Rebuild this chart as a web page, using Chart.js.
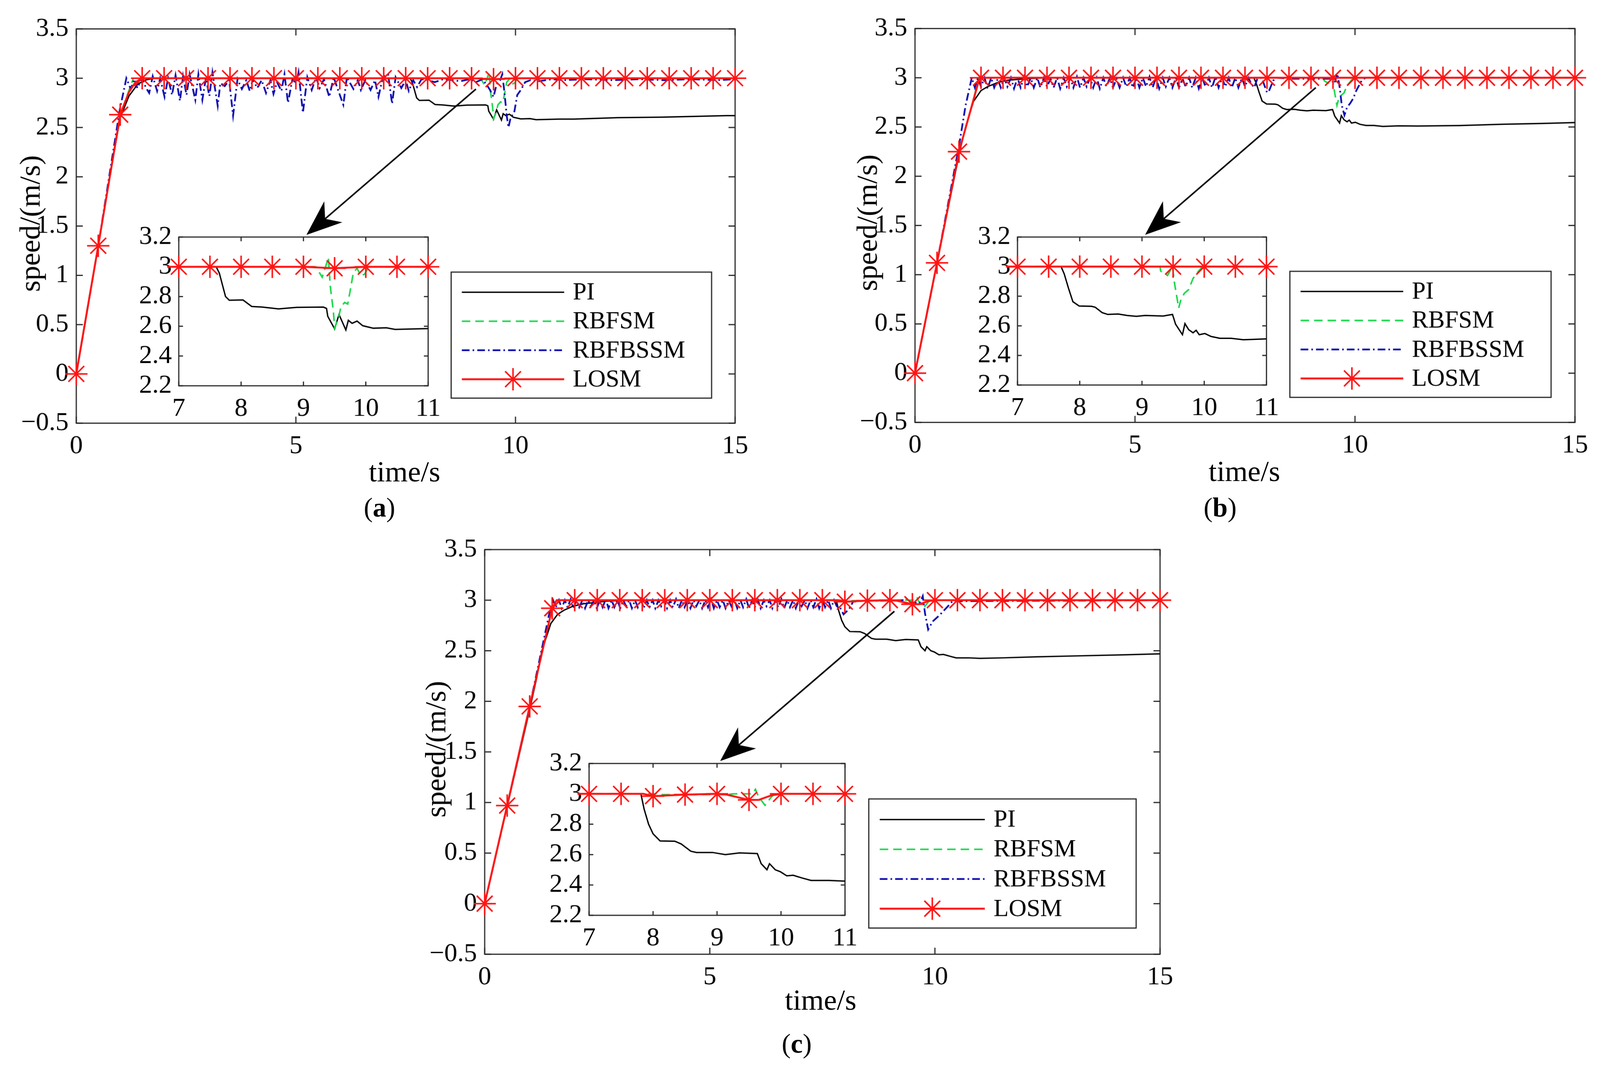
<!DOCTYPE html>
<html>
<head>
<meta charset="utf-8">
<title>speed response</title>
<script src="https://cdn.jsdelivr.net/npm/chart.js@4.4.1/dist/chart.umd.min.js"></script>
<style>
  html, body { margin: 0; padding: 0; background: #fff; overflow: hidden; }
  body { font-family: 'Liberation Serif', 'Times New Roman', serif; }
  #page { position: absolute; left: 0; top: 0; width: 4153px; height: 2792px; background: #fff; transform-origin: 0 0; }
  canvas { position: absolute; }
  .txt { position: absolute; color: #000; white-space: nowrap; line-height: 1; transform: translate(-50%, -50%); }
  .rot { transform: translate(-50%, -50%) rotate(-90deg); }
</style>
</head>
<body>
<div id="page"></div>
<script>
// ---- data: [time s, speed m/s] ----
const piA = [[0,0],[0.25,0.66],[0.5,1.3],[0.75,1.97],[1.0,2.6],[1.2,2.82],[1.4,2.94],[1.6,2.985],[1.8,3.0],[7.6,3.0],[7.65,2.958],[7.75,2.8],[7.81,2.775],[8.03,2.777],[8.17,2.733],[8.34,2.729],[8.6,2.717],[8.89,2.727],[9.32,2.729],[9.37,2.72],[9.39,2.667],[9.5,2.583],[9.57,2.679],[9.68,2.575],[9.72,2.64],[9.78,2.62],[9.86,2.635],[9.95,2.604],[10.12,2.587],[10.33,2.59],[10.47,2.579],[11.0,2.585],[11.33,2.585],[12.33,2.6],[13.32,2.605],[14.81,2.62],[15,2.62]];
const rbfsmA = [[0,0],[0.5,1.3],[1.0,2.63],[1.3,3.0],[9.2,3.0],[9.3,2.93],[9.4,3.06],[9.43,2.87],[9.48,2.7],[9.5,2.59],[9.56,2.65],[9.6,2.73],[9.66,2.76],[9.71,2.75],[9.75,2.84],[9.8,2.96],[9.86,2.99],[9.92,2.94],[9.98,2.95],[10.05,3.0],[15,3.0]];
const rbfbssmA = [[0,0],[0.5,1.3],[0.99,2.68],[1.14,3.0],[1.24,2.89],[1.32,2.99],[1.39,2.9],[1.49,3.0],[1.59,2.9],[1.66,2.85],
  [1.74,3.02],[1.84,2.87],[1.91,3.0],[2.01,2.81],[2.09,3.0],[2.18,2.83],[2.26,3.03],[2.36,2.77],[2.43,3.02],[2.51,2.83],
  [2.58,3.04],[2.71,2.78],[2.78,3.04],[2.87,2.78],[2.95,3.0],[3.03,2.82],[3.1,3.06],[3.22,2.72],[3.28,2.95],[3.38,2.92],
  [3.48,2.98],[3.57,2.62],[3.67,2.99],[3.77,2.89],[3.87,2.98],[3.95,2.87],[4.02,2.99],[4.12,2.9],[4.22,2.98],[4.32,2.85],
  [4.42,2.98],[4.49,2.84],[4.57,2.96],[4.67,2.87],[4.74,3.04],[4.82,2.75],[4.92,2.99],[5.01,2.95],[5.06,3.06],[5.16,2.65],
  [5.26,3.01],[5.36,2.88],[5.46,3.01],[5.54,2.9],[5.64,2.99],[5.76,2.81],[5.86,3.01],[5.96,2.88],[6.08,2.73],[6.16,3.01],
  [6.31,2.89],[6.41,2.98],[6.48,2.88],[6.58,2.98],[6.7,2.88],[6.8,2.98],[6.88,2.81],[6.98,3.01],[7.1,3.04],[7.19,2.74],
  [7.27,3.01],[7.4,2.9],[7.5,2.98],[7.57,2.87],[7.67,2.98],[7.76,2.91],[7.86,2.99],[8.01,2.98],[8.16,2.96],[8.36,2.99],
  [8.55,2.98],[8.75,2.97],[8.95,2.99],[9.1,2.96],[9.25,2.99],[9.35,2.93],[9.42,2.88],[9.5,2.81],[9.57,2.94],[9.65,2.98],
  [9.7,3.04],[9.75,2.85],[9.8,2.62],[9.84,2.5],[9.89,2.6],[9.97,2.65],[10.04,2.83],[10.12,2.88],[10.22,2.96],[10.34,2.98],
  [10.54,2.97],[10.84,2.99],[11.09,2.98],[11.6,2.99],[12.2,2.98],[12.8,2.99],[13.4,2.98],[14.0,2.99],[14.6,2.98],[15,2.99]];
const losmA = [[0,0],[0.5,1.3],[1.0,2.63],[1.2,2.86],[1.35,2.96],[1.5,3.0],[2,3],[2.5,3],[3,3],[3.5,3],[4,3],[4.5,3],[5,3],[5.5,3],[6,3],[6.5,3],[7,3],[7.5,3],[8,3],[8.5,3],[9,3],[9.5,2.99],[10,3],[10.5,3],[11,3],[11.5,3],[12,3],[12.5,3],[13,3],[13.5,3],[14,3],[14.5,3],[15,3]];

const piB = [[0,0],[0.5,1.12],[1.0,2.22],[1.15,2.5],[1.33,2.76],[1.5,2.87],[1.65,2.91],[1.9,2.955],[2.1,2.975],[2.5,2.99],[3.0,3.0],[7.7,3.0],[7.75,2.952],[7.82,2.853],[7.89,2.763],[7.99,2.734],[8.19,2.732],[8.25,2.725],[8.36,2.689],[8.45,2.677],[8.62,2.68],[8.76,2.67],[8.91,2.664],[9.05,2.67],[9.34,2.666],[9.49,2.677],[9.54,2.611],[9.65,2.54],[9.69,2.615],[9.75,2.574],[9.82,2.553],[9.87,2.57],[9.92,2.54],[10.01,2.548],[10.11,2.528],[10.25,2.516],[10.43,2.516],[10.63,2.506],[11.0,2.512],[11.43,2.51],[12.37,2.515],[13.32,2.527],[14.27,2.536],[15,2.545]];
const rbfsmB = [[0,0],[0.5,1.12],[1.0,2.25],[1.3,2.73],[1.45,3.0],[9.29,3.0],[9.3,2.97],[9.41,2.94],[9.49,3.0],[9.52,2.895],[9.59,2.72],[9.62,2.77],[9.68,2.82],[9.75,2.845],[9.82,2.92],[9.91,2.97],[9.97,3.0],[15,3.0]];
const rbfbssmB = [[0,0],[0.5,1.12],[1.0,2.31],[1.15,2.72],[1.29,3.0],
  [1.36,2.9],[1.43,3.0],[1.5,2.91],[1.58,3.0],[1.65,2.89],[1.73,3.0],[1.8,2.9],[1.88,2.99],[1.95,2.9],[2.03,3.0],
  [2.1,2.91],[2.18,3.0],[2.25,2.89],[2.33,3.0],[2.4,2.9],[2.48,3.01],[2.55,2.91],[2.63,3.0],[2.7,2.9],[2.78,3.0],
  [2.85,2.9],[2.93,3.0],[3.0,2.91],[3.08,2.99],[3.15,2.9],[3.23,3.0],[3.3,2.89],[3.38,3.0],[3.45,2.91],[3.53,3.0],
  [3.6,2.9],[3.68,3.01],[3.75,2.9],[3.83,3.0],[3.9,2.91],[3.98,3.0],[4.05,2.9],[4.13,3.0],[4.2,2.89],[4.28,3.0],
  [4.35,2.91],[4.43,3.0],[4.5,2.9],[4.58,2.99],[4.65,2.9],[4.73,3.0],[4.8,2.91],[4.88,3.0],[4.95,2.9],[5.03,3.0],
  [5.1,2.9],[5.18,3.0],[5.25,2.91],[5.33,3.01],[5.4,2.9],[5.48,3.0],[5.55,2.89],[5.63,3.0],[5.7,2.91],[5.78,3.0],
  [5.85,2.9],[5.93,3.0],[6.0,2.9],[6.08,2.99],[6.15,2.91],[6.23,3.0],[6.3,2.9],[6.38,3.0],[6.45,2.89],[6.53,3.0],
  [6.6,2.91],[6.68,3.0],[6.75,2.9],[6.83,3.01],[6.9,2.9],[6.98,3.0],[7.05,2.91],[7.13,3.0],[7.2,2.9],[7.28,3.0],
  [7.35,2.9],[7.43,3.0],[7.5,2.91],[7.58,3.0],[7.64,2.94],[7.71,2.9],[7.78,2.99],[7.88,3.0],[8.0,2.85],[8.04,2.86],
  [8.14,2.97],[8.21,3.0],[8.59,2.99],[9.06,2.99],[9.44,2.99],[9.53,2.94],[9.6,3.04],[9.65,2.91],[9.7,2.72],[9.76,2.62],
  [9.82,2.7],[9.89,2.74],[9.96,2.79],[10.03,2.87],[10.15,2.97],[10.24,3.0],[15,3.0]];
const losmB = [[0,0],[0.5,1.12],[1.0,2.25],[1.3,2.73],[1.45,2.97],[1.5,3.0],[2,3],[2.5,3],[3,3],[3.5,3],[4,3],[4.5,3],[5,3],[5.5,3],[6,3],[6.5,3],[7,3],[7.5,3],[8,3],[8.5,3],[9,3],[9.5,3],[10,3],[10.5,3],[11,3],[11.5,3],[12,3],[12.5,3],[13,3],[13.5,3],[14,3],[14.5,3],[15,3]];

const piC = [[0,0],[0.5,0.96],[1.0,1.92],[1.15,2.22],[1.27,2.5],[1.47,2.77],[1.62,2.86],[1.76,2.9],[1.96,2.94],[2.2,2.965],[2.7,2.99],[3.2,3.0],[7.81,3.0],[7.86,2.9],[7.93,2.8],[8.0,2.737],[8.11,2.69],[8.34,2.688],[8.44,2.67],[8.59,2.622],[8.68,2.614],[8.93,2.614],[9.13,2.6],[9.35,2.611],[9.63,2.607],[9.69,2.54],[9.78,2.5],[9.82,2.54],[9.91,2.5],[9.99,2.487],[10.09,2.46],[10.19,2.464],[10.33,2.446],[10.47,2.43],[10.75,2.43],[11.0,2.425],[11.52,2.43],[12.25,2.44],[13.23,2.45],[14.21,2.46],[15,2.47]];
const rbfsmC = [[0,0],[0.5,0.97],[1.0,1.95],[1.5,2.92],[1.6,3.0],[8.05,3.0],[8.1,2.995],[9.15,2.995],[9.25,3.0],[9.55,3.0],[9.6,3.03],[9.65,2.98],[9.75,2.925],[9.85,2.98],[9.9,3.0],[15,3.0]];
const rbfbssmC = [[0,0],[0.5,0.97],[1.0,1.95],[1.45,2.9],[1.52,3.0],
  [1.58,2.93],[1.65,3.0],[1.71,2.92],[1.78,3.0],[1.84,2.93],[1.91,3.01],[1.97,2.92],[2.04,3.0],[2.1,2.93],[2.17,3.0],
  [2.23,2.92],[2.3,3.0],[2.36,2.94],[2.43,3.0],[2.49,2.92],[2.56,3.0],[2.62,2.93],[2.69,3.01],[2.75,2.92],[2.82,3.0],
  [2.88,2.93],[2.95,3.0],[3.01,2.92],[3.08,3.0],[3.14,2.94],[3.21,3.0],[3.27,2.92],[3.34,3.0],[3.4,2.93],[3.47,3.01],
  [3.53,2.92],[3.6,3.0],[3.66,2.93],[3.73,3.0],[3.79,2.92],[3.86,3.0],[3.92,2.94],[3.99,3.0],[4.05,2.92],[4.12,3.0],
  [4.18,2.93],[4.25,3.01],[4.31,2.92],[4.38,3.0],[4.44,2.93],[4.51,3.0],[4.57,2.92],[4.64,3.0],[4.7,2.94],[4.77,3.0],
  [4.83,2.92],[4.9,3.0],[4.96,2.93],[5.03,3.01],[5.09,2.92],[5.16,3.0],[5.22,2.93],[5.29,3.0],[5.35,2.92],[5.42,3.0],
  [5.48,2.94],[5.55,3.0],[5.61,2.92],[5.68,3.0],[5.74,2.93],[5.81,3.01],[5.87,2.92],[5.94,3.0],[6.0,2.93],[6.07,3.0],
  [6.13,2.92],[6.2,3.0],[6.26,2.94],[6.33,3.0],[6.39,2.92],[6.46,3.0],[6.52,2.93],[6.59,3.01],[6.65,2.92],[6.72,3.0],
  [6.78,2.93],[6.85,3.0],[6.91,2.92],[6.98,3.0],[7.04,2.94],[7.11,3.0],[7.17,2.92],[7.24,3.0],[7.3,2.93],[7.37,3.01],
  [7.43,2.92],[7.5,3.0],[7.56,2.93],[7.63,3.0],[7.69,2.92],[7.76,3.0],[7.82,2.94],[7.89,2.93],[7.97,2.86],[8.09,2.91],
  [8.19,2.99],[9.31,3.0],[9.36,3.02],[9.46,2.98],[9.66,2.97],[9.73,3.04],[9.78,2.87],[9.85,2.71],[9.95,2.79],[10.1,2.85],
  [10.29,2.94],[10.39,2.99],[15,3.0]];
const losmC = [[0,0],[0.5,0.97],[1.0,1.95],[1.5,2.92],[1.6,3.0],[2,3],[2.5,3],[3,3],[3.5,3],[4,3],[4.5,3],[5,3],[5.5,3],[6,3],[6.5,3],[7,3],[7.5,3],[7.85,3.0],[8,2.985],[8.5,2.995],[9,3],[9.15,2.995],[9.5,2.96],[9.65,2.96],[9.85,2.99],[10,3],[10.5,3],[11,3],[11.5,3],[12,3],[12.5,3],[13,3],[13.5,3],[14,3],[14.5,3],[15,3]];

const seriesNames = ['PI', 'RBFSM', 'RBFBSSM', 'LOSM'];
const mainXRange = [0, 15], mainXStep = 5;
const mainYRange = [-0.5, 3.5], mainYStep = 0.5;
const insetXRange = [7, 11], insetXStep = 1;
const insetYRange = [2.2, 3.2], insetYStep = 0.2;

// ---- styles and layout ----
const PAGE_W = 4153, PAGE_H = 2792;
const FONT = "'Liberation Serif', 'Times New Roman', serif";
const AXIS = '#262626';
const TICK_PX = 68;
const looks = [
  { color: '#000000', width: 3.5, dash: [],            order: 4 },
  { color: '#18d84a', width: 4,   dash: [22, 13],      order: 3 },
  { color: '#0b0bb0', width: 4.5, dash: [20, 8, 4, 8], order: 2 },
  { color: '#ff1414', width: 5,   dash: [],            order: 1 }
];
const STAR_R = 29;

Chart.defaults.font.family = FONT;
Chart.defaults.color = '#000';

const page = document.getElementById('page');
// keep the whole 4153x2792 sheet inside the viewport
const fit = Math.min(window.innerWidth / PAGE_W, window.innerHeight / PAGE_H);
if (fit > 0 && fit < 0.999) page.style.transform = 'scale(' + fit + ')';

const panels = [
  { tag: 'a', sets: [piA, rbfsmA, rbfbssmA, losmA],
    plot: [198, 61, 1913, 1098], inset: [464, 603, 1130, 1001], legend: [1171, 706, 1847, 1033],
    arrow: [[9.1, 2.89], [5.24, 1.41]], xTitle: [1050, 1223], yTitle: [77, 580], label: [985, 1317] },
  { tag: 'b', sets: [piB, rbfsmB, rbfbssmB, losmB],
    plot: [2375, 60, 4093, 1096], inset: [2641, 603, 3306, 999], legend: [3348, 704, 4026, 1031],
    arrow: [[9.11, 2.9], [5.23, 1.405]], xTitle: [3230, 1222], yTitle: [2250, 578], label: [3167, 1317] },
  { tag: 'c', sets: [piC, rbfsmC, rbfbssmC, losmC],
    plot: [1258, 1412, 3016, 2476], inset: [1529, 1969, 2212, 2375], legend: [2255, 2073, 2949, 2408],
    arrow: [[9.1, 2.89], [5.23, 1.41]], xTitle: [2130, 2594], yTitle: [1130, 1944], label: [2068, 2708] }
];

function fmt(v) {
  const r = Math.round(v * 10) / 10;
  return (r < 0 ? '\u2212' : '') + Math.abs(r);
}

function isMark(x) {
  return Math.abs(x * 2 - Math.round(x * 2)) < 1e-6;
}

function drawStar(ctx, x, y, r) {
  ctx.beginPath();
  for (let k = 0; k < 4; k++) {
    const a = k * Math.PI / 4;
    ctx.moveTo(x - Math.cos(a) * r, y - Math.sin(a) * r);
    ctx.lineTo(x + Math.cos(a) * r, y + Math.sin(a) * r);
  }
  ctx.stroke();
}

function buildSets(sets, inset) {
  const out = [];
  sets.forEach((pts, i) => {
    if (inset && i === 2) return; // the zoom panels only carry PI, RBFSM and LOSM
    const lk = looks[i];
    const ds = {
      label: seriesNames[i],
      data: pts.map(p => ({ x: p[0], y: p[1] })),
      borderColor: lk.color,
      backgroundColor: lk.color,
      borderWidth: lk.width,
      borderDash: lk.dash,
      tension: 0,
      fill: false,
      order: lk.order,
      pointRadius: 0,
      pointHoverRadius: 0
    };
    if (i === 3) {
      ds.pointStyle = 'star';
      ds.pointRadius = ctx => (ctx.raw && isMark(ctx.raw.x)) ? STAR_R : 0;
      ds.pointBorderWidth = 4;
      ds.pointBorderColor = lk.color;
      ds.pointBackgroundColor = lk.color;
      ds.clip = inset ? { left: 30, right: 30, top: 12, bottom: 12 } : false;
    } else if (inset) {
      ds.clip = 0;
    }
    out.push(ds);
  });
  return out;
}

function framePlugin(tickLen, whiteFill) {
  return {
    id: 'frame',
    beforeDraw(chart) {
      if (!whiteFill) return;
      const a = chart.chartArea, ctx = chart.ctx;
      ctx.save();
      ctx.fillStyle = '#fff';
      ctx.fillRect(a.left, a.top, a.right - a.left, a.bottom - a.top);
      ctx.restore();
    },
    beforeDatasetsDraw(chart) {
      const a = chart.chartArea, ctx = chart.ctx;
      const xs = chart.scales.x, ys = chart.scales.y;
      ctx.save();
      ctx.strokeStyle = AXIS;
      ctx.lineWidth = 3;
      ctx.setLineDash([]);
      ctx.strokeRect(a.left, a.top, a.right - a.left, a.bottom - a.top);
      ctx.beginPath();
      xs.ticks.forEach(t => {
        const px = xs.getPixelForValue(t.value);
        ctx.moveTo(px, a.bottom); ctx.lineTo(px, a.bottom - tickLen);
        ctx.moveTo(px, a.top); ctx.lineTo(px, a.top + tickLen);
      });
      ys.ticks.forEach(t => {
        const py = ys.getPixelForValue(t.value);
        ctx.moveTo(a.left, py); ctx.lineTo(a.left + tickLen, py);
        ctx.moveTo(a.right, py); ctx.lineTo(a.right - tickLen, py);
      });
      ctx.stroke();
      ctx.restore();
    }
  };
}

function legendPlugin(box, offX, offY) {
  return {
    id: 'boxLegend',
    afterDatasetsDraw(chart) {
      const ctx = chart.ctx;
      const l = box[0] - offX, t = box[1] - offY, r = box[2] - offX, b = box[3] - offY;
      const w = r - l, h = b - t;
      const rows = [0.16, 0.39, 0.62, 0.85];
      ctx.save();
      ctx.fillStyle = '#fff';
      ctx.fillRect(l, t, w, h);
      ctx.strokeStyle = AXIS;
      ctx.lineWidth = 3;
      ctx.strokeRect(l, t, w, h);
      ctx.font = '64px ' + FONT;
      ctx.textBaseline = 'middle';
      ctx.textAlign = 'left';
      seriesNames.forEach((name, i) => {
        const lk = looks[i];
        const y = t + rows[i] * h;
        const x1 = l + 0.041 * w, x2 = l + 0.434 * w;
        ctx.strokeStyle = lk.color;
        ctx.lineWidth = lk.width;
        ctx.setLineDash(lk.dash);
        ctx.beginPath(); ctx.moveTo(x1, y); ctx.lineTo(x2, y); ctx.stroke();
        ctx.setLineDash([]);
        if (i === 3) { ctx.lineWidth = 4; drawStar(ctx, (x1 + x2) / 2, y, STAR_R); }
        ctx.fillStyle = '#000';
        ctx.fillText(name, l + 0.467 * w, y + 2);
      });
      ctx.restore();
    }
  };
}

function arrowPlugin(spec) {
  return {
    id: 'zoomArrow',
    afterDatasetsDraw(chart) {
      const ctx = chart.ctx, xs = chart.scales.x, ys = chart.scales.y;
      const x1 = xs.getPixelForValue(spec[0][0]), y1 = ys.getPixelForValue(spec[0][1]);
      const x2 = xs.getPixelForValue(spec[1][0]), y2 = ys.getPixelForValue(spec[1][1]);
      const dx = x2 - x1, dy = y2 - y1, len = Math.hypot(dx, dy);
      const ux = dx / len, uy = dy / len, nx = -uy, ny = ux;
      const hl = 92, hw = 36, notch = 64;
      ctx.save();
      ctx.strokeStyle = '#000';
      ctx.fillStyle = '#000';
      ctx.lineWidth = 4;
      ctx.setLineDash([]);
      ctx.beginPath(); ctx.moveTo(x1, y1); ctx.lineTo(x2 - ux * notch, y2 - uy * notch); ctx.stroke();
      ctx.beginPath();
      ctx.moveTo(x2, y2);
      ctx.lineTo(x2 - ux * hl + nx * hw, y2 - uy * hl + ny * hw);
      ctx.lineTo(x2 - ux * notch, y2 - uy * notch);
      ctx.lineTo(x2 - ux * hl - nx * hw, y2 - uy * hl - ny * hw);
      ctx.closePath();
      ctx.fill();
      ctx.restore();
    }
  };
}

function makeCanvas(rect, pad) {
  const cv = document.createElement('canvas');
  const w = rect[2] - rect[0] + pad.l + pad.r;
  const h = rect[3] - rect[1] + pad.t + pad.b;
  cv.width = w; cv.height = h;
  cv.style.width = w + 'px'; cv.style.height = h + 'px';
  cv.style.left = (rect[0] - pad.l) + 'px';
  cv.style.top = (rect[1] - pad.t) + 'px';
  page.appendChild(cv);
  return cv;
}

function scaleOpts(range, step, pad, labelPad) {
  return {
    x: {
      type: 'linear', min: range.x[0], max: range.x[1],
      afterFit: s => { s.height = pad.b; },
      grid: { display: false, drawTicks: false }, border: { display: false },
      ticks: { stepSize: step.x, padding: labelPad.x, color: '#000', font: { size: TICK_PX, lineHeight: 1 }, callback: v => fmt(v), maxRotation: 0 }
    },
    y: {
      type: 'linear', min: range.y[0], max: range.y[1],
      afterFit: s => { s.width = pad.l; },
      grid: { display: false, drawTicks: false }, border: { display: false },
      ticks: { stepSize: step.y, padding: labelPad.y, color: '#000', font: { size: TICK_PX, lineHeight: 1 }, callback: v => fmt(v) }
    }
  };
}

function addText(html, pos, size, cls) {
  const d = document.createElement('div');
  d.className = 'txt' + (cls ? ' ' + cls : '');
  d.style.left = pos[0] + 'px';
  d.style.top = pos[1] + 'px';
  d.style.fontSize = size + 'px';
  d.innerHTML = html;
  page.appendChild(d);
}

panels.forEach(p => {
  // main axes
  const mpad = { l: 200, t: 40, r: 55, b: 130 };
  const mcv = makeCanvas(p.plot, mpad);
  new Chart(mcv, {
    type: 'line',
    data: { datasets: buildSets(p.sets, false) },
    options: {
      responsive: false, animation: false, devicePixelRatio: 1,
      layout: { autoPadding: false, padding: { top: mpad.t, right: mpad.r, left: 0, bottom: 0 } },
      plugins: { legend: { display: false }, tooltip: { enabled: false } },
      events: [],
      scales: scaleOpts({ x: mainXRange, y: mainYRange }, { x: mainXStep, y: mainYStep }, mpad, { x: 26, y: 20 })
    },
    plugins: [framePlugin(17, false), arrowPlugin(p.arrow),
              legendPlugin(p.legend, p.plot[0] - mpad.l, p.plot[1] - mpad.t)]
  });

  // zoomed inset
  const ipad = { l: 140, t: 40, r: 40, b: 110 };
  const icv = makeCanvas(p.inset, ipad);
  new Chart(icv, {
    type: 'line',
    data: { datasets: buildSets(p.sets, true) },
    options: {
      responsive: false, animation: false, devicePixelRatio: 1,
      layout: { autoPadding: false, padding: { top: ipad.t, right: ipad.r, left: 0, bottom: 0 } },
      plugins: { legend: { display: false }, tooltip: { enabled: false } },
      events: [],
      scales: scaleOpts({ x: insetXRange, y: insetYRange }, { x: insetXStep, y: insetYStep }, ipad, { x: 26, y: 18 })
    },
    plugins: [framePlugin(11, true)]
  });

  addText('time/s', p.xTitle, 76);
  addText('speed/(m/s)', p.yTitle, 76, 'rot');
  addText('(<b>' + p.tag + '</b>)', p.label, 70);
});
</script>
</body>
</html>
